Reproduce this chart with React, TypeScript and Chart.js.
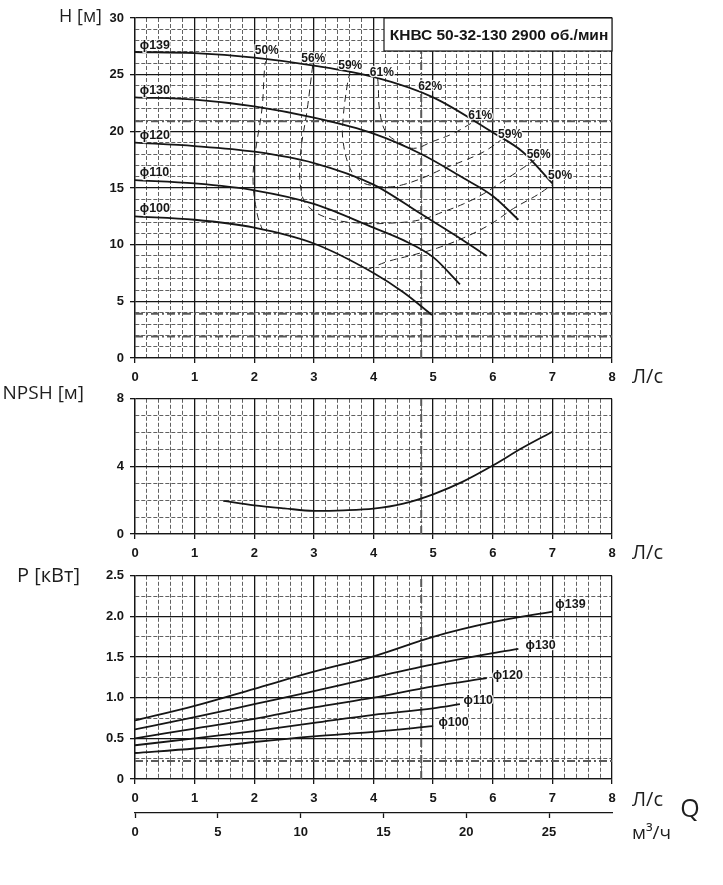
import { useEffect, useRef } from "react";
import { Chart, registerables, type ChartConfiguration, type Plugin } from "chart.js";

Chart.register(...registerables);

// ---------- data read from the sheet ----------
// flow in л/с, head in м, NPSH in м, power in кВт
const flowMax = 8;
const headMax = 30;
const npshMax = 8;
const powerMax = 2.5;

const diameters = ["ϕ139", "ϕ130", "ϕ120", "ϕ110", "ϕ100"];

const q139 = [0, 1, 2, 3, 4, 5, 6, 6.5, 7];
const h139 = [27.0, 26.9, 26.5, 25.8, 24.8, 23.0, 19.9, 18.2, 15.4];
const q130 = [0, 1, 2, 3, 4, 4.8, 5.5, 6, 6.43];
const h130 = [23.0, 22.8, 22.2, 21.2, 19.8, 18.0, 15.9, 14.3, 12.2];
const q120 = [0, 1, 2, 3, 4, 4.8, 5.5, 5.9];
const h120 = [19.0, 18.7, 18.2, 17.2, 15.3, 12.7, 10.4, 9.0];
const q110 = [0, 1, 2, 3, 4, 4.5, 5, 5.45];
const h110 = [15.7, 15.4, 14.8, 13.6, 11.5, 10.4, 8.9, 6.5];
const q100 = [0, 1, 2, 3, 4, 4.5, 4.98];
const h100 = [12.5, 12.2, 11.5, 10.1, 7.5, 5.8, 3.8];

// iso-efficiency lines
const eff50aQ = [2.22, 2.18, 2.13, 2.02, 1.98, 2.05, 2.13];
const eff50aH = [26.4, 25.9, 22.0, 18.2, 15.6, 12.7, 11.4];
const eff50bQ = [3.9, 4.23, 4.67, 5.07, 5.51, 5.96, 6.35, 6.75, 7.0];
const eff50bH = [7.8, 8.5, 9.1, 9.7, 10.6, 11.8, 13.2, 14.4, 15.3];
const eff56Q = [2.98, 2.89, 2.77, 2.8, 2.94, 3.27, 3.78, 4.28, 4.79, 5.17, 5.51, 5.85, 6.17, 6.46, 6.71];
const eff56H = [25.8, 22.0, 17.6, 14.4, 13.2, 12.3, 11.9, 11.9, 12.2, 12.9, 13.6, 14.5, 15.6, 16.6, 17.5];
const eff59Q = [3.61, 3.56, 3.49, 3.49, 3.61, 3.78, 4.0, 4.28, 4.5, 4.83, 5.17, 5.51, 5.85, 6.13];
const eff59H = [25.3, 24.1, 21.1, 19.1, 16.7, 15.6, 15.2, 15.1, 15.3, 15.9, 16.7, 17.4, 18.2, 19.2];
const eff61Q = [4.07, 4.08, 4.1, 4.2, 4.4, 4.67, 4.99, 5.33, 5.7];
const eff61H = [24.7, 24.0, 22.0, 20.0, 19.1, 18.5, 19.1, 19.8, 20.9];

const effLabels = ["50%", "56%", "59%", "61%", "62%", "61%", "59%", "56%", "50%"];
const effLabelQ = [2.21, 2.99, 3.61, 4.14, 4.95, 5.79, 6.29, 6.77, 7.13];
const effLabelH = [27.1, 26.4, 25.8, 25.2, 23.9, 21.4, 19.7, 17.9, 16.1];
const diamLabelH = [27.6, 23.6, 19.6, 16.4, 13.2];

const npshQ = [1.48, 2, 2.5, 3, 3.5, 4, 4.5, 5, 5.5, 6, 6.5, 7];
const npshV = [1.96, 1.7, 1.52, 1.37, 1.4, 1.5, 1.8, 2.35, 3.1, 4.05, 5.1, 6.05];

const pq139 = [0, 1, 2, 3, 4, 5, 6, 7];
const p139 = [0.72, 0.9, 1.11, 1.32, 1.51, 1.75, 1.93, 2.06];
const pq130 = [0, 1, 2, 3, 4, 5, 6, 6.43];
const p130 = [0.61, 0.76, 0.92, 1.08, 1.25, 1.41, 1.55, 1.6];
const pq120 = [0, 1, 2, 3, 4, 5, 5.9];
const p120 = [0.5, 0.62, 0.74, 0.88, 1.0, 1.14, 1.24];
const pq110 = [0, 1, 2, 3, 4, 5, 5.45];
const p110 = [0.415, 0.5, 0.59, 0.69, 0.79, 0.87, 0.92];
const pq100 = [0, 1, 2, 3, 4, 5];
const p100 = [0.32, 0.375, 0.455, 0.525, 0.58, 0.65];
const powerLabelQ = [7.05, 6.55, 6.0, 5.51, 5.09];
const powerLabelP = [2.15, 1.64, 1.27, 0.96, 0.69];

// heavy dash-dot guide lines on the sheet
const guideFlow = 4.8;
const guideHeads = [20.9, 3.9, 1.9];
const guidePowers = [0.22];

const m3PerLs = 3.6;
const title = "КНВС 50-32-130 2900 об./мин";

// ---------- styling helpers ----------
const INK = "#161616";
const MINOR = "#383838";
const GUIDE = "#5a5a5a";
const SANS = "'Liberation Sans', Arial, sans-serif";
const CAPTION = "'Open Sans', 'DejaVu Sans', sans-serif";
const tickFont = { family: SANS, size: 13, weight: "bold" as const };

const pts = (xs: number[], ys: number[]) => xs.map((x, i) => ({ x, y: ys[i] }));
const isMult = (v: number, step: number) => Math.abs(v / step - Math.round(v / step)) < 1e-6;

function gridFor(major: number) {
  return {
    color: (c: any) => (c.tick && isMult(c.tick.value, major) ? INK : MINOR),
    lineWidth: (c: any) => (c.tick && isMult(c.tick.value, major) ? 1.3 : 0.8),
    tickColor: (c: any) => (c.tick && isMult(c.tick.value, major) ? INK : "rgba(0,0,0,0)"),
    tickLength: 5,
    tickWidth: 1.3,
  };
}

function borderFor(major: number) {
  return {
    display: true,
    color: INK,
    width: 1.3,
    dash: (c: any) => (c.tick && !isMult(c.tick.value, major) ? [4, 2] : []),
  };
}

function flowAxis(height: number): any {
  return {
    type: "linear",
    position: "bottom",
    weight: 0,
    min: 0,
    max: flowMax,
    afterFit: (s: any) => {
      s.height = height;
    },
    ticks: {
      stepSize: 0.2,
      autoSkip: false,
      maxRotation: 0,
      padding: 7,
      color: INK,
      font: tickFont,
      callback: (v: any) => (isMult(Number(v), 1) ? String(Math.round(Number(v))) : ""),
    },
    grid: gridFor(1),
    border: borderFor(1),
  };
}

function valueAxis(max: number, step: number, major: number, fmt: (v: number) => string): any {
  return {
    type: "linear",
    min: 0,
    max,
    afterFit: (s: any) => {
      s.width = 135;
    },
    ticks: {
      stepSize: step,
      autoSkip: false,
      padding: 6,
      color: INK,
      font: tickFont,
      callback: (v: any) => (isMult(Number(v), major) ? fmt(Number(v)) : ""),
    },
    grid: gridFor(major),
    border: borderFor(major),
  };
}

const solid = (data: { x: number; y: number }[], width = 1.8) => ({
  data,
  borderColor: INK,
  borderWidth: width,
  cubicInterpolationMode: "monotone" as const,
  order: 1,
});

const dashed = (data: { x: number; y: number }[]) => ({
  data,
  borderColor: "#222",
  borderWidth: 1,
  borderDash: [7, 5],
  tension: 0.4,
  order: 2,
});

const guide = (data: { x: number; y: number }[]) => ({
  data,
  borderColor: GUIDE,
  borderWidth: 2,
  borderDash: [8, 3, 2, 3],
  order: 3,
});

type Caption = { text: string; x: number; y: number; size: number; align: CanvasTextAlign };

function captions(build: (a: { left: number; right: number; top: number; bottom: number }) => Caption[]): Plugin {
  return {
    id: "captions",
    afterDraw(chart) {
      const ctx = chart.ctx;
      ctx.save();
      ctx.fillStyle = "#1e1e1e";
      ctx.textBaseline = "middle";
      for (const c of build(chart.chartArea)) {
        ctx.font = `${c.size}px ${CAPTION}`;
        ctx.textAlign = c.align;
        ctx.fillText(c.text, c.x, c.y);
      }
      ctx.restore();
    },
  };
}

type Note = { text: string; x: number; y: number; align: CanvasTextAlign; size: number };

function notes(list: Note[]): Plugin {
  return {
    id: "notes",
    afterDatasetsDraw(chart) {
      const ctx = chart.ctx;
      const sx = chart.scales.x;
      const sy = chart.scales.y;
      ctx.save();
      ctx.textBaseline = "middle";
      ctx.lineJoin = "round";
      for (const n of list) {
        ctx.font = `bold ${n.size}px ${SANS}`;
        ctx.textAlign = n.align;
        const px = sx.getPixelForValue(n.x);
        const py = sy.getPixelForValue(n.y);
        ctx.strokeStyle = "rgba(255,255,255,0.9)";
        ctx.lineWidth = 2.5;
        ctx.strokeText(n.text, px, py);
        ctx.fillStyle = INK;
        ctx.fillText(n.text, px, py);
      }
      ctx.restore();
    },
  };
}

const titleBox: Plugin = {
  id: "titleBox",
  afterDatasetsDraw(chart) {
    const { ctx, chartArea: a } = chart;
    const left = a.right - 228;
    const bottom = a.top + 33;
    ctx.save();
    ctx.fillStyle = "#fff";
    ctx.fillRect(left, a.top, a.right - left, bottom - a.top);
    ctx.strokeStyle = INK;
    ctx.lineWidth = 1.2;
    ctx.strokeRect(left, a.top, a.right - left, bottom - a.top);
    ctx.fillStyle = INK;
    ctx.font = `bold 15.5px ${SANS}`;
    ctx.textAlign = "center";
    ctx.textBaseline = "middle";
    ctx.fillText(title, (left + a.right) / 2 + 1, (a.top + bottom) / 2 + 1);
    ctx.restore();
  },
};

const baseOptions = (padTop: number): any => ({
  responsive: false,
  animation: false,
  events: [],
  layout: { padding: { top: padTop, right: 111, left: 0, bottom: 0 } },
  elements: { point: { radius: 0 } },
  plugins: { legend: { display: false }, tooltip: { enabled: false } },
});

// ---------- chart configs ----------
function headConfig(): ChartConfiguration {
  const effNotes: Note[] = effLabels.map((t, i) => ({
    text: t,
    x: effLabelQ[i],
    y: effLabelH[i],
    align: "center",
    size: 12,
  }));
  const diamNotes: Note[] = diameters.map((t, i) => ({
    text: t,
    x: 0.08,
    y: diamLabelH[i],
    align: "left",
    size: 12.5,
  }));
  return {
    type: "line",
    data: {
      datasets: [
        ...guideHeads.map((h) => guide([{ x: 0, y: h }, { x: flowMax, y: h }])),
        guide([{ x: guideFlow, y: 0 }, { x: guideFlow, y: headMax }]),
        dashed(pts(eff50aQ, eff50aH)),
        dashed(pts(eff50bQ, eff50bH)),
        dashed(pts(eff56Q, eff56H)),
        dashed(pts(eff59Q, eff59H)),
        dashed(pts(eff61Q, eff61H)),
        solid(pts(q139, h139)),
        solid(pts(q130, h130)),
        solid(pts(q120, h120)),
        solid(pts(q110, h110)),
        solid(pts(q100, h100)),
      ] as any,
    },
    options: {
      ...baseOptions(18),
      scales: {
        x: flowAxis(27),
        y: valueAxis(headMax, 1, 5, (v) => String(v)),
      },
    },
    plugins: [
      titleBox,
      notes([...effNotes, ...diamNotes]),
      captions((a) => [
        { text: "H [м]", x: a.left - 33, y: a.top - 1, size: 18, align: "right" },
        { text: "Л/с", x: a.right + 20, y: a.bottom + 19, size: 20, align: "left" },
      ]),
    ],
  };
}

function npshConfig(): ChartConfiguration {
  return {
    type: "line",
    data: {
      datasets: [
        guide([{ x: guideFlow, y: 0 }, { x: guideFlow, y: npshMax }]),
        solid(pts(npshQ, npshV)),
      ] as any,
    },
    options: {
      ...baseOptions(13),
      scales: {
        x: flowAxis(28),
        y: valueAxis(npshMax, 1, 4, (v) => String(v)),
      },
    },
    plugins: [
      captions((a) => [
        { text: "NPSH [м]", x: a.left - 51, y: a.top - 5, size: 19, align: "right" },
        { text: "Л/с", x: a.right + 20, y: a.bottom + 19, size: 20, align: "left" },
      ]),
    ],
  };
}

function powerConfig(): ChartConfiguration {
  const powerNotes: Note[] = diameters.map((t, i) => ({
    text: t,
    x: powerLabelQ[i],
    y: powerLabelP[i],
    align: "left",
    size: 12.5,
  }));
  return {
    type: "line",
    data: {
      datasets: [
        ...guidePowers.map((p) => guide([{ x: 0, y: p }, { x: flowMax, y: p }])),
        guide([{ x: guideFlow, y: 0 }, { x: guideFlow, y: powerMax }]),
        solid(pts(pq139, p139)),
        solid(pts(pq130, p130)),
        solid(pts(pq120, p120)),
        solid(pts(pq110, p110)),
        solid(pts(pq100, p100)),
      ] as any,
    },
    options: {
      ...baseOptions(13),
      scales: {
        x: flowAxis(34),
        xm3: {
          type: "linear",
          position: "bottom",
          weight: 1,
          bounds: "data",
          min: 0,
          max: flowMax * m3PerLs,
          afterFit: (s: any) => {
            s.height = 30;
          },
          ticks: {
            stepSize: 5,
            includeBounds: false,
            autoSkip: false,
            maxRotation: 0,
            padding: 7,
            color: INK,
            font: tickFont,
          },
          grid: { drawOnChartArea: false, drawTicks: true, tickLength: 5, tickWidth: 1.3, tickColor: INK },
          border: { display: true, color: INK, width: 1.3 },
        },
        y: valueAxis(powerMax, 0.25, 0.5, (v) => (v === 0 ? "0" : v.toFixed(1))),
      } as any,
    },
    plugins: [
      notes(powerNotes),
      captions((a) => [
        { text: "P [кВт]", x: a.left - 55, y: a.top, size: 20, align: "right" },
        { text: "Л/с", x: a.right + 20, y: a.bottom + 21, size: 20, align: "left" },
        { text: "Q", x: a.right + 78, y: a.bottom + 31, size: 25, align: "center" },
        { text: "м³/ч", x: a.right + 20, y: a.bottom + 55, size: 19, align: "left" },
      ]),
    ],
  };
}

function ChartBlock({ top, height, make }: { top: number; height: number; make: () => ChartConfiguration }) {
  const canvasRef = useRef<HTMLCanvasElement | null>(null);

  useEffect(() => {
    if (!canvasRef.current) return;
    const chart = new Chart(canvasRef.current, make());
    return () => chart.destroy();
  }, [make]);

  return (
    <canvas
      ref={canvasRef}
      width={723}
      height={height}
      style={{ position: "absolute", left: 0, top, width: 723, height, display: "block" }}
    />
  );
}

export default function App() {
  return (
    <div style={{ position: "absolute", left: 0, top: 0, width: 723, height: 885, background: "#fff" }}>
      <ChartBlock top={0} height={385} make={headConfig} />
      <ChartBlock top={385} height={177} make={npshConfig} />
      <ChartBlock top={562} height={281} make={powerConfig} />
    </div>
  );
}
